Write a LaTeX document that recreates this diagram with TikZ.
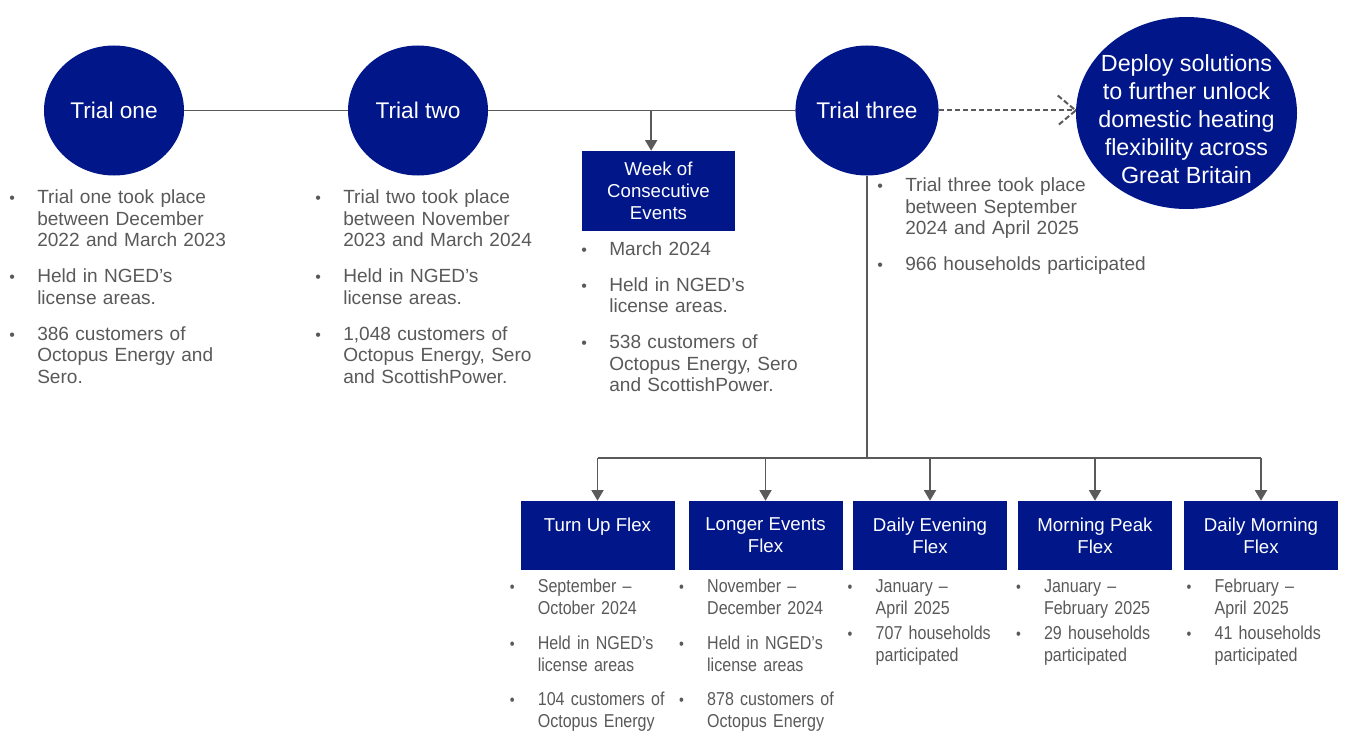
\documentclass[tikz,border=0pt]{standalone}
\usepackage{fontspec}
\setmainfont{Liberation Sans}
\newfontfamily\narrowsf[FakeStretch=0.86]{Liberation Sans}
\usepackage{enumitem}
\usetikzlibrary{shapes.geometric, arrows.meta, positioning}
\definecolor{trialblue}{RGB}{0,22,137}
\definecolor{linegray}{RGB}{90,90,90}
\definecolor{textgray}{RGB}{89,89,89}
\newcommand{\tasklist}[2][11pt]{%
  \begin{itemize}[nosep, leftmargin=21pt, labelwidth=21pt, labelsep=0pt, align=left, itemsep=#1, label={\fontsize{12}{12}\selectfont •}]
  #2
  \end{itemize}}
\tikzset{trial/.style={ellipse, fill=trialblue, text=white, inner sep=0pt,
    minimum width=105pt, minimum height=97.5pt, font=\fontsize{17}{20}\selectfont},
  goal/.style={trial, minimum width=165.75pt, minimum height=144pt},
  goaltext/.style={text=white, align=center, inner sep=0pt, font=\fontsize{17.5}{21}\selectfont},
  stage/.style={rectangle, fill=trialblue, text=white, align=center, inner sep=0pt,
    minimum width=115.5pt, minimum height=51.75pt, font=\fontsize{14}{16.5}\selectfont},
  notes/.style={anchor=north west, inner sep=0pt, text width=230pt, text=textgray,
    font=\fontsize{14.3}{16.1}\selectfont},
  subnotes/.style={notes, text width=150pt, font=\narrowsf\fontsize{14}{16.5}\selectfont},
  link/.style={draw=linegray, line width=1.4pt},
  arrow/.style={link, -{Triangle[width=9pt,length=8pt]}},
  future/.style={draw=linegray, line width=1.5pt, dash pattern=on 4pt off 2pt, line cap=butt}}
\begin{document}
\begin{tikzpicture}[x=0.75pt,y=-0.75pt]
  \useasboundingbox (0,0) rectangle (1346,735);

  % trials along the timeline
  \node[trial] (t1) at (114,110.5) {Trial one};
  \node[trial] (t2) at (418,110.5) {Trial two};
  \node[trial] (t3) at (867,110.5) {Trial three};
  \node[goal] (deploy) at (1186.5,113) {};
  \node[goaltext] (deploytxt) at ([yshift=-4.5pt]deploy.center) {Deploy solutions\\to further unlock\\domestic heating\\flexibility across\\Great Britain};
  \node[stage, minimum width=114.75pt, minimum height=60pt] (week) at (658.5,191) {Week of\\Consecutive\\Events};

  \draw[link] (t1) -- (t2) -- (t3);
  \draw[arrow] ([xshift=-5.5pt]week.north |- t2.east) -- ([xshift=-5.5pt]week.north);

  % dashed link to the goal
  \coordinate (tip) at (t3 -| deploy.west);
  \draw[future] (t3) -- (tip);
  \draw[future] ([shift={(-18,-15)}]tip) -- (tip) -- ([shift={(-18,15)}]tip);

  % trial three split into the five events
  \node[stage] (b1) at (597.5,535.5) {Turn Up Flex\\\mbox{}};
  \node[stage] (b2) at (765.5,535.5) {Longer Events\\Flex};
  \node[stage] (b3) at (930,535.5) {Daily Evening\\Flex};
  \node[stage] (b4) at (1095,535.5) {Morning Peak\\Flex};
  \node[stage] (b5) at (1261,535.5) {Daily Morning\\Flex};

  \coordinate (split) at (867,458);
  \draw[link] (t3) -- (split);
  \draw[link] (b1.north |- split) -- (b5.north |- split);
  \foreach \i in {1,...,5}
    \draw[arrow] (b\i.north |- split) -- (b\i.north);

  % notes
  \node[notes] (n1) at (9,182) {\tasklist{
    \item Trial one took place\\between December\\2022 and March 2023
    \item Held in NGED’s\\license areas.
    \item 386 customers of\\Octopus Energy and\\Sero.}};
  \node[notes] (n2) at (315,182) {\tasklist{
    \item Trial two took place\\between November\\2023 and March 2024
    \item Held in NGED’s\\license areas.
    \item 1,048 customers of\\Octopus Energy, Sero\\and ScottishPower.}};
  \node[notes] (nw) at ([xshift=-0.5pt,yshift=-1.5pt]week.south west) {\tasklist{
    \item March 2024
    \item Held in NGED’s\\license areas.
    \item 538 customers of\\Octopus Energy, Sero\\and ScottishPower.}};
  \node[notes] (n3) at (877,170) {\tasklist{
    \item Trial three took place\\between September\\2024 and April 2025
    \item 966 households participated}};

  \node[subnotes] (s1) at ([xshift=-8pt,yshift=0pt]b1.south west) {\tasklist[9.5pt]{
    \item September –\\October 2024
    \item Held in NGED’s\\license areas
    \item 104 customers of\\Octopus Energy}};
  \node[subnotes] (s2) at ([xshift=-7pt,yshift=0pt]b2.south west) {\tasklist[9.5pt]{
    \item November –\\December 2024
    \item Held in NGED’s\\license areas
    \item 878 customers of\\Octopus Energy}};
  \node[subnotes] (s3) at ([xshift=-4pt,yshift=0pt]b3.south west) {\tasklist[2pt]{
    \item January –\\April 2025
    \item 707 households\\participated}};
  \node[subnotes] (s4) at ([xshift=-1.5pt,yshift=0pt]b4.south west) {\tasklist[2pt]{
    \item January –\\February 2025
    \item 29 households\\participated}};
  \node[subnotes] (s5) at ([xshift=2pt,yshift=0pt]b5.south west) {\tasklist[2pt]{
    \item February –\\April 2025
    \item 41 households\\participated}};
\end{tikzpicture}
\end{document}
